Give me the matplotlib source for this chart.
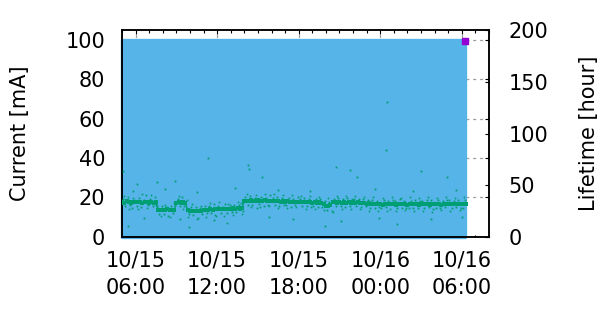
import datetime as dt
import matplotlib
matplotlib.use('Agg')
import matplotlib.pyplot as plt
import matplotlib.dates as mdates

plt.rcParams['font.family'] = 'DejaVu Sans'

t0 = dt.datetime(2024, 10, 15, 5, 0)

# beam current [mA] (flat at 100 mA for the whole range)
cur_hours = [0.0, 25.25]
cur_vals = [100, 100]
last_hour = 25.24
last_cur = 99.4

# lifetime [hour], one value every 10 min starting 10/15 05:00
life_band = [
    33.8, 33.0, 34.2, 33.5, 32.9, 33.9,
    33.2, 34.0, 33.5, 33.1, 33.8, 33.4,
    33.0, 33.5, 32.9, 33.2, 26.3, 25.7,
    26.0, 25.5, 26.4, 25.8, 26.1, 25.6,
    32.8, 33.5, 33.0, 33.4, 32.6, 25.4,
    24.8, 25.2, 24.6, 25.1, 24.9, 25.3,
    25.9, 26.3, 26.0, 26.6, 26.2, 26.8,
    26.4, 26.9, 26.5, 27.0, 26.6, 27.2,
    26.9, 27.4, 27.0, 27.6, 27.2, 28.0,
    34.6, 35.0, 34.4, 35.2, 34.7, 34.9,
    35.1, 34.5, 34.8, 35.3, 34.6, 34.9,
    34.4, 34.8, 34.2, 34.6, 34.0, 34.5,
    33.9, 34.3, 33.7, 34.1, 33.6, 34.0,
    33.5, 33.9, 33.3, 33.7, 33.2, 33.6,
    33.1, 33.5, 32.9, 33.3, 32.4, 31.5,
    30.2, 29.4, 31.0, 33.2, 33.6, 33.0,
    33.4, 32.8, 33.6, 33.1, 33.5, 32.9,
    33.3, 32.7, 33.2, 32.6, 33.0, 32.4,
    31.8, 32.2, 31.5, 31.9, 31.4, 32.0,
    31.6, 31.2, 31.8, 31.3, 31.9, 31.5,
    31.7, 31.1, 31.6, 32.1, 31.4, 31.8,
    31.2, 31.7, 31.3, 31.9, 31.5, 31.1,
    31.6, 32.0, 31.4, 31.8, 31.2, 31.7,
    31.3, 31.9, 31.5, 31.1, 31.7, 31.4,
    31.8, 31.3, 31.9, 31.5, 32.0, 31.6,
    31.4, 31.9, 31.5,
]

# scattered readings around the band, every 10 min starting 05:05
life_scatter = [
    36.5, 29.8, 38.0, 31.0, 27.5, 35.9,
    30.1, 37.2, 28.9, 35.5, 40.0, 31.2,
    36.4, 29.5, 38.8, 30.0, 22.0, 29.9,
    22.4, 28.8, 20.5, 29.6, 23.1, 31.0,
    36.7, 29.5, 38.2, 30.1, 36.0, 21.9,
    28.4, 21.0, 29.0, 18.5, 27.8, 22.2,
    29.6, 22.5, 30.1, 23.0, 31.5, 20.4,
    30.0, 23.4, 29.2, 31.8, 22.9, 30.6,
    23.5, 31.2, 24.0, 30.8, 32.5, 24.6,
    38.3, 31.0, 39.5, 30.8, 37.6, 28.0,
    31.5, 38.8, 30.2, 37.9, 31.1, 40.3,
    37.8, 30.6, 38.5, 29.9, 37.2, 31.0,
    30.4, 37.6, 29.1, 36.9, 30.5, 38.1,
    36.8, 29.8, 37.5, 30.1, 36.2, 28.6,
    29.5, 36.9, 28.3, 36.4, 29.0, 34.8,
    26.1, 33.9, 24.5, 36.8, 29.7, 37.1,
    29.6, 36.7, 28.8, 37.4, 30.0, 36.3,
    36.5, 29.3, 37.0, 28.9, 36.1, 29.6,
    35.2, 28.0, 35.9, 27.6, 34.8, 28.4,
    27.9, 35.5, 28.3, 34.9, 27.2, 35.8,
    35.0, 27.7, 36.2, 28.1, 34.6, 27.5,
    28.2, 34.8, 27.4, 35.6, 28.0, 34.3,
    34.9, 27.9, 35.3, 28.6, 36.0, 27.3,
    28.1, 35.2, 27.6, 34.7, 28.5, 35.7,
    35.4, 27.8, 34.6, 28.3, 35.9, 27.5,
    28.0, 35.1,
]

# wider scatter, every 20 min starting 05:10
life_scatter2 = [
    39.5, 27.0, 37.8, 26.5, 41.2, 28.2,
    40.1, 30.8, 19.8, 30.5, 18.9, 32.4,
    39.0, 27.2, 19.0, 31.4, 17.6, 30.2,
    19.3, 32.8, 21.1, 33.2, 20.0, 32.0,
    21.5, 33.9, 22.0, 41.0, 29.0, 40.6,
    28.7, 41.8, 29.5, 40.9, 28.1, 40.2,
    27.6, 40.0, 28.4, 39.6, 27.3, 39.1,
    26.8, 38.6, 25.9, 37.2, 23.8, 39.4,
    27.1, 39.8, 26.6, 39.2, 26.4, 38.7,
    25.3, 38.1, 24.9, 37.9, 25.1, 38.4,
    24.6, 37.5, 25.5, 38.0, 24.8, 37.3,
    25.2, 38.6, 24.4, 37.8, 25.7, 38.2,
    24.9, 37.4, 25.4, 38.1,
]

# isolated readings far from the band
out_hours = [0.1, 1.1, 2.57, 3.89, 6.33, 9.27, 9.34, 10.29, 15.72, 16.75,
             17.26, 19.39, 19.46, 22.03, 23.94,
             0.45, 4.9, 7.7, 14.9, 20.2,
             0.8, 3.2, 5.5, 8.3, 11.5, 13.8, 18.6, 21.4, 24.6,
             1.6, 4.3, 6.8, 10.8, 12.6, 16.1, 18.9, 22.7, 25.0]
out_vals = [63.4, 51, 53, 54, 76, 69, 66, 57.5, 68, 65,
            57.5, 83.7, 131, 63.4, 57.5,
            10.4, 9.4, 13, 10.4, 12.3,
            44, 46, 43, 47, 45, 44, 46, 44, 45,
            18, 17, 16, 19, 17, 15, 18, 17, 19]


def to_time(hours):
    return [t0 + dt.timedelta(hours=h) for h in hours]


band_t = to_time([i / 6 for i in range(len(life_band))])
scat_t = to_time([i / 6 + 1 / 12 for i in range(len(life_scatter))])
scat2_t = to_time([i / 3 + 1 / 6 for i in range(len(life_scatter2))])

fig = plt.figure(figsize=(6.1, 3.1), dpi=100)
ax = fig.add_axes([122 / 610, 1 - 236.7 / 310, 367 / 610, 206.4 / 310])

blue = '#56b4e9'
green = '#009e73'
purple = '#9400d3'
FS = 15

ax.fill_between(to_time(cur_hours), 0, cur_vals, color=blue, lw=2.4,
                edgecolor=blue, clip_on=False, zorder=1)
ax.plot(to_time([last_hour]), [last_cur], 's', color=purple, ms=5,
        mec=purple, clip_on=False, zorder=5)

ax.set_xlim(t0, t0 + dt.timedelta(hours=27))
ax.set_ylim(0, 105)
ax.set_yticks([0, 20, 40, 60, 80, 100])
ax.xaxis.set_major_locator(mdates.HourLocator(byhour=[0, 6, 12, 18]))
ax.xaxis.set_minor_locator(mdates.HourLocator())
ax.xaxis.set_major_formatter(mdates.DateFormatter('%m/%d\n%H:%M'))
ax.set_axisbelow(True)
ax.grid(True, which='major', color='#a0a0a0', ls=(0, (2.5, 3)), lw=0.9)
for lab in ax.get_xticklabels():
    lab.set_linespacing(1.45)

ax2 = ax.twinx()
ax2.set_ylim(0, 200)
ax2.set_yticks([0, 50, 100, 150, 200])
ax2.plot(band_t, life_band, 's-', color=green, lw=1.0, ms=2.2, mew=0,
         zorder=3)
ax2.plot(scat_t, life_scatter, 's', color=green, ms=1.3, mew=0, zorder=3)
ax2.plot(scat2_t, life_scatter2, 's', color=green, ms=1.2, mew=0, zorder=3)
ax2.plot(to_time(out_hours), out_vals, 's', color=green, ms=1.3, mew=0,
         zorder=3)

ax.tick_params(axis='y', which='both', left=True, right=True, direction='in',
               length=3.2, width=0.8, labelsize=FS, pad=12)
ax.tick_params(axis='x', which='major', top=True, bottom=True, direction='in',
               length=3.2, width=0.8, labelsize=FS, pad=10)
ax.tick_params(axis='x', which='minor', top=True, bottom=True, direction='in',
               length=1.8, width=0.8)
ax2.tick_params(axis='y', direction='in', length=3.2, width=0.8,
                labelsize=FS, pad=14)

for a in (ax, ax2):
    for s in a.spines.values():
        s.set_linewidth(1.1)
        s.set_color('black')

ax.set_ylabel('Current [mA]', fontsize=FS)
ax.yaxis.set_label_coords(-0.25, 0.5)
ax2.set_ylabel('Lifetime [hour]', fontsize=FS)
ax2.yaxis.set_label_coords(1.245, 0.5)

fig.savefig('out.png', dpi=100)
